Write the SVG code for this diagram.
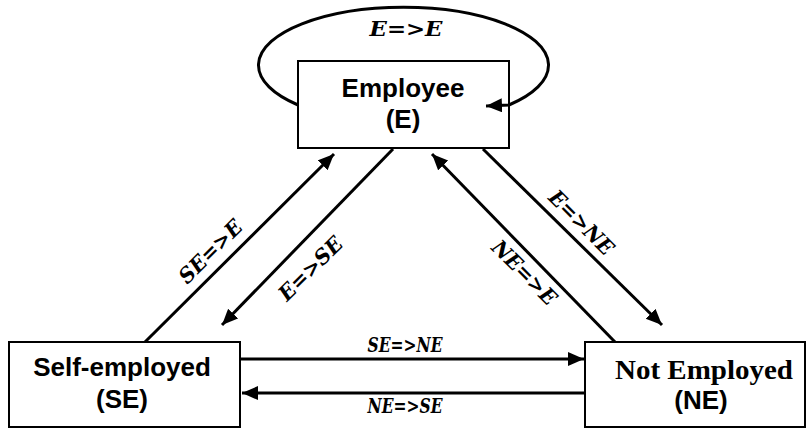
<svg xmlns="http://www.w3.org/2000/svg" width="806" height="428" viewBox="0 0 806 428">
<style>
.box{fill:#fff;stroke:#000;stroke-width:2}
.lbl{font-family:"Liberation Sans",Arial,sans-serif;font-weight:bold;font-size:26px;text-anchor:middle;fill:#000}
.ser{font-family:"Liberation Serif","Times New Roman",serif;font-weight:bold;font-size:28px;text-anchor:middle;fill:#000}
.edge{fill:none;stroke:#000;stroke-width:3;marker-end:url(#ah)}
.el{font-family:"DejaVu Serif","Liberation Serif",serif;font-weight:bold;font-style:italic;font-size:21px;text-anchor:middle;fill:#000}
</style>
<defs>
<marker id="ah" markerUnits="userSpaceOnUse" markerWidth="17" markerHeight="15" refX="16" refY="7" orient="auto">
<path d="M0,0 L16,7 L0,14 z" fill="#000"/>
</marker>
</defs>
<rect width="806" height="428" fill="#fff"/>
<g id="employee">
<rect class="box" x="298" y="61" width="211" height="87"/>
<text class="lbl" x="403" y="97">Employee</text>
<text class="lbl" x="403" y="128">(E)</text>
</g>
<g id="self-employed">
<rect class="box" x="9" y="342" width="231" height="85"/>
<text class="lbl" x="122" y="376">Self-employed</text>
<text class="lbl" x="122" y="408">(SE)</text>
</g>
<g id="not-employed">
<rect class="box" x="585" y="342" width="220" height="85"/>
<text class="ser" x="704" y="379" textLength="178" lengthAdjust="spacingAndGlyphs">Not Employed</text>
<text class="lbl" x="701" y="409">(NE)</text>
</g>
<g id="connectors">
<path class="edge" d="M298,105 A145,58 0 1 1 509,105 L486,106"/>
<path class="edge" d="M145,342 L334,154"/>
<path class="edge" d="M393,149 L222,325"/>
<path class="edge" d="M615,342 L432,154"/>
<path class="edge" d="M483,149 L662,325"/>
<path class="edge" d="M240,359 L584,359"/>
<path class="edge" d="M585,393 L242,393"/>
<text class="el" x="406" y="36" font-size="22" textLength="73" lengthAdjust="spacingAndGlyphs">E=&gt;E</text>
<text class="el" x="405" y="352" textLength="75" lengthAdjust="spacingAndGlyphs">SE=&gt;NE</text>
<text class="el" x="405" y="413" textLength="75" lengthAdjust="spacingAndGlyphs">NE=&gt;SE</text>
<text class="el" transform="translate(210,251) rotate(-45)" x="0" y="8" textLength="80" lengthAdjust="spacingAndGlyphs">SE=&gt;E</text>
<text class="el" transform="translate(310,268) rotate(-45)" x="0" y="8" textLength="81" lengthAdjust="spacingAndGlyphs">E=&gt;SE</text>
<text class="el" transform="translate(582,222) rotate(45)" x="0" y="8" textLength="82" lengthAdjust="spacingAndGlyphs">E=&gt;NE</text>
<text class="el" transform="translate(525,272) rotate(45)" x="0" y="8" textLength="82" lengthAdjust="spacingAndGlyphs">NE=&gt;E</text>
</g>
</svg>
